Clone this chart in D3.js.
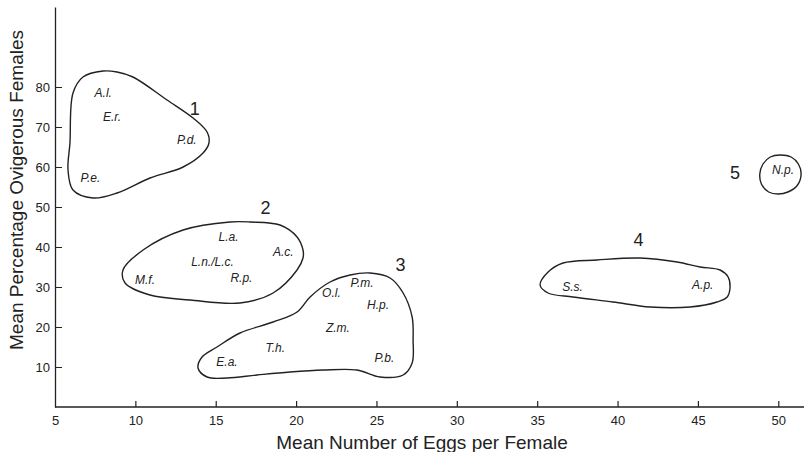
<!DOCTYPE html>
<html>
<head>
<meta charset="utf-8">
<script src="https://cdn.jsdelivr.net/npm/d3@7"></script>
<style>
  body { margin: 0; background: #fff; }
  svg { display: block; }
  text { font-family: "Liberation Sans", Arial, sans-serif; fill: #222; }
  .species { font-style: italic; font-size: 12px; }
  .group { font-size: 18px; }
  .tick-label { font-size: 13px; }
  .title { font-size: 19px; }
</style>
</head>
<body>
<svg id="chart" width="804" height="452"></svg>
<script>
// species labels: [abbrev, mean eggs, mean % ovigerous]
var species = [
  ["A.l.", 8.0, 78.5], ["E.r.", 8.55, 72.5], ["P.d.", 13.2, 66.8], ["P.e.", 7.2, 57.2],
  ["L.a.", 15.8, 42.5], ["A.c.", 19.2, 38.8], ["L.n./L.c.", 14.8, 36.3], ["R.p.", 16.6, 32.3], ["M.f.", 10.6, 31.8],
  ["P.m.", 24.1, 31], ["O.l.", 22.2, 28.5], ["H.p.", 25.1, 25.5], ["Z.m.", 22.6, 19.8],
  ["T.h.", 18.7, 14.8], ["P.b.", 25.5, 12.3], ["E.a.", 15.7, 11.3],
  ["S.s.", 37.2, 30], ["A.p.", 45.3, 30.5],
  ["N.p.", 50.3, 59.3]
];

// group numbers and where they sit
var groupLabels = [
  ["1", 13.7, 74.5], ["2", 18.1, 49.8], ["3", 26.5, 35.5], ["4", 41.3, 41.8], ["5", 47.3, 58.5]
];

// hand drawn outlines round each group, in data units
var outline1 = [[7.99,84],[8.86,83.75],[9.85,82.5],[11.97,76.75],[13.59,72.25],[14.46,68.75],[14.58,66],
  [14.21,63.5],[12.97,60],[10.91,57.25],[8.86,53.5],[7.36,52.25],[6.12,54.25],[5.81,59.25],[5.93,66],
  [6.12,78.5],[6.74,82.5]];
var outline2 = [[15.89,46.25],[17.13,46.25],[19.0,45.5],[20.06,42.5],[20.43,39.25],[20.43,37.25],
  [20.06,34.25],[18.57,28.5],[16.51,26],[13.4,26.75],[10.91,28],[9.36,31],[9.23,34.25],[10.48,39.25],
  [12.97,44.25]];
var outline3 = [[24.6,33.5],[25.85,32.25],[26.66,28.5],[27.22,22.5],[27.28,16.75],[27.22,11],[26.66,8],
  [25.22,7.5],[23.79,9.25],[21.68,9.25],[19.62,8.75],[17.57,8],[15.7,7.25],[14.46,7.5],[13.9,9.75],
  [14.15,12.5],[15.08,15],[16.51,18.5],[18.57,21.25],[20.06,23.75],[20.87,27.5],[22.11,31.25],[23.36,33]];
var outline4 = [[35.18,30.5],[35.68,33.75],[36.61,36],[38.73,36.75],[41.4,37.25],[43.71,36.25],
  [45.14,35],[46.38,34.25],[46.88,32.5],[47.0,30],[46.82,27.5],[46.19,26.25],[44.51,25],[42.03,25],
  [39.72,26.25],[37.23,27.5],[35.68,28.5]];
var outline5 = [[50.11,63],[50.8,62.5],[51.25,60.75],[51.42,58.25],[51.2,55.5],[50.6,53.75],[50.0,53.25],
  [49.4,53.75],[48.95,55.75],[48.85,58.25],[49.05,60.75],[49.5,62.5]];

var xTicks = [5, 10, 15, 20, 25, 30, 35, 40, 45, 50];
var yTicks = [10, 20, 30, 40, 50, 60, 70, 80];

var svg = d3.select("#chart");

var x = d3.scaleLinear().domain([5, 51.6]).range([55, 804]);
var y = d3.scaleLinear().domain([0, 100]).range([407, 7]);

// axes
var xAxis = d3.axisBottom(x).tickValues(xTicks).tickSize(0).tickPadding(9);
var yAxis = d3.axisLeft(y).tickValues(yTicks).tickSize(0).tickPadding(5);

var gx = svg.append("g").attr("transform", "translate(0," + y(0) + ")").call(xAxis);
var gy = svg.append("g").attr("transform", "translate(" + x(5) + ",0)").call(yAxis);

[gx, gy].forEach(function(g) {
  g.select(".domain").attr("stroke", "#222").attr("stroke-width", 1.3);
  g.selectAll(".tick text").attr("class", "tick-label").attr("font-family", null).attr("font-size", null);
});
gx.select(".domain").attr("d", "M" + x(5) + ",0H804");

// inward ticks
gx.selectAll(".tick").filter(function(d) { return d > 5; })
  .append("line").attr("y2", -6).attr("stroke", "#222").attr("stroke-width", 1.2);
gy.selectAll(".tick").append("line").attr("x2", 7).attr("stroke", "#222").attr("stroke-width", 1);

// titles
svg.append("text").attr("class", "title")
  .attr("x", 422).attr("y", 449).attr("text-anchor", "middle")
  .text("Mean Number of Eggs per Female");
svg.append("text").attr("class", "title")
  .attr("transform", "translate(23,190) rotate(-90)").attr("text-anchor", "middle")
  .text("Mean Percentage Ovigerous Females");

// outlines
var line = d3.line()
  .x(function(d) { return x(d[0]); })
  .y(function(d) { return y(d[1]); })
  .curve(d3.curveCatmullRomClosed.alpha(0.5));

svg.selectAll("path.outline")
  .data([outline1, outline2, outline3, outline4, outline5])
  .enter().append("path")
  .attr("class", "outline")
  .attr("d", line)
  .attr("fill", "none")
  .attr("stroke", "#222")
  .attr("stroke-width", 1.4);

// species abbreviations
svg.selectAll("text.species")
  .data(species)
  .enter().append("text")
  .attr("class", "species")
  .attr("x", function(d) { return x(d[1]); })
  .attr("y", function(d) { return y(d[2]); })
  .attr("dy", "0.35em")
  .attr("text-anchor", "middle")
  .text(function(d) { return d[0]; });

// group numbers
svg.selectAll("text.group")
  .data(groupLabels)
  .enter().append("text")
  .attr("class", "group")
  .attr("x", function(d) { return x(d[1]); })
  .attr("y", function(d) { return y(d[2]); })
  .attr("dy", "0.35em")
  .attr("text-anchor", "middle")
  .text(function(d) { return d[0]; });
</script>
</body>
</html>
